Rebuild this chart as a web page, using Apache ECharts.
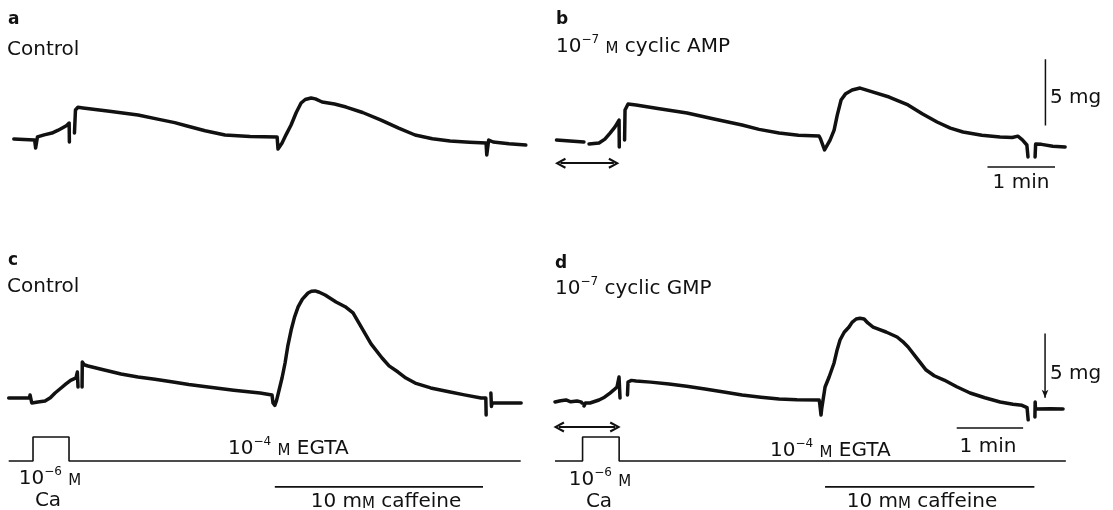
<!DOCTYPE html>
<html>
<head>
<meta charset="utf-8">
<script src="https://cdn.jsdelivr.net/npm/echarts@6.0.0/dist/echarts.min.js"></script>
<style>
  html, body { margin: 0; padding: 0; background: #fff; }
  #chart { width: 1113px; height: 510px; }
</style>
</head>
<body>
<div id="chart"></div>
<script>
// Tension traces: [time (s), tension (mg)], '-' breaks the pen trace
var traceA = [[0,0.46],[18.5,0.38],[19.4,-0.23],[20.3,-0.23],[21.0,0.62],[27,0.78],[33.9,0.92],[39,1.12],[43.1,1.31],[47,1.5],[49.2,1.69],[49.4,0.23],[51.5,'-'],[53.9,0.92],[54.8,2.69],[57,2.9],[61.5,2.85],[85,2.6],[110.4,2.31],[130,1.95],[143,1.72],[154,1.46],[170,1.1],[187.7,0.77],[210,0.65],[234,0.62],[234.8,-0.31],[236.5,-0.31],[238.4,0.15],[242,0.8],[246.4,1.54],[251,2.5],[255.3,3.23],[259,3.5],[264.2,3.62],[268,3.55],[274,3.31],[285,3.15],[295.3,2.92],[310,2.5],[326.4,1.92],[342,1.3],[356.6,0.77],[372,0.48],[387.7,0.31],[405,0.22],[419.7,0.15],[420.3,-0.77],[421.2,-0.77],[422,0.38],[426,0.23],[440,0.1],[455,0]];
var traceB = [[0,0.38],[12,0.3],[24.4,0.23],[25,'-'],[28.9,0.08],[37.8,0.15],[43,0.45],[47.6,0.92],[52,1.4],[55.6,1.92],[55.8,-0.15],[58,'-'],[60.5,0.38],[60.9,2.69],[63.6,3.15],[70.7,3.08],[90,2.8],[116,2.46],[140,2.0],[164.9,1.54],[180,1.2],[197.8,0.92],[215,0.75],[233.3,0.69],[234.5,0.5],[238.2,-0.38],[239,-0.38],[243.1,0.38],[246.7,1.15],[249.5,2.3],[252.9,3.46],[257,3.95],[262.7,4.23],[269.8,4.38],[280,4.1],[295.6,3.69],[312.4,3.08],[325,2.4],[338.2,1.77],[350,1.3],[361.3,1.0],[378,0.75],[394.2,0.62],[405,0.58],[410,0.68],[414,0.4],[418,0.0],[419,-0.92],[420,'-'],[425.3,-0.92],[425.8,0.08],[431,0.05],[441,-0.1],[452,-0.15]];
var traceC = [[0,0.43],[18.4,0.43],[19.0,0.69],[19.6,0.69],[20.5,0.0],[22,-0.1],[26,0.09],[32.3,0.17],[37,0.45],[41.2,0.86],[46,1.25],[50.9,1.64],[55,1.95],[59.8,2.16],[61.0,2.67],[61.6,1.38],[63,'-'],[65.2,1.38],[65.4,3.53],[67,3.3],[70.5,3.19],[85,2.85],[99.8,2.5],[114.9,2.24],[130,2.05],[146.1,1.81],[160,1.6],[177.2,1.38],[200,1.1],[223.4,0.86],[234,0.69],[234.9,0.0],[236.5,-0.2],[238,0.2],[240.3,1.12],[243,2.2],[245.6,3.45],[248,4.9],[251,6.29],[254,7.4],[257.2,8.28],[261,8.95],[266,9.48],[269,9.64],[272.3,9.66],[276,9.55],[281.2,9.31],[290.9,8.71],[299,8.3],[306,7.76],[310,7.1],[314.9,6.29],[322,5.1],[331.8,3.88],[338,3.2],[346,2.67],[353,2.15],[361.2,1.72],[375,1.3],[392.3,0.95],[405,0.7],[419.8,0.43],[424,0.43],[424.3,-1.03],[425,'-'],[428.5,0.86],[429,-0.3],[429.5,0.0],[440,0.0],[455.4,0.0]];
var traceD = [[0,0.09],[5,0.2],[9.8,0.26],[14,0.1],[19.6,0.17],[23,0.1],[24,0.0],[24.5,'-'],[25.8,-0.26],[27,0.0],[31.1,0.0],[39.1,0.26],[44,0.5],[48.9,0.86],[52,1.1],[55.1,1.38],[56.9,2.24],[57.8,0.43],[60,'-'],[64.4,0.69],[64.9,1.81],[68,1.95],[72,1.9],[85,1.8],[101.3,1.64],[117,1.45],[133.3,1.21],[150,0.95],[166.2,0.69],[183,0.5],[199.1,0.34],[215,0.28],[234.7,0.26],[235.2,0.0],[236.4,-1.03],[237,-0.5],[240,1.38],[243.6,2.24],[248,3.45],[250.5,4.5],[253.3,5.43],[257,6.1],[261.3,6.55],[264,6.95],[267.6,7.24],[271,7.3],[274.7,7.24],[278,6.9],[282.7,6.55],[288,6.35],[294.2,6.12],[304,5.69],[309,5.3],[313.8,4.83],[322,3.8],[329.8,2.84],[337,2.35],[345.8,1.98],[357,1.4],[368.9,0.86],[382,0.45],[395.6,0.09],[407,-0.1],[415,-0.2],[419.5,-0.4],[420.5,-1.45],[421.5,'-'],[426.5,-1.21],[426.7,0.09],[427,-0.52],[440,-0.5],[451.5,-0.52]];

// Solution protocol: [time (s), level] 0 = EGTA, 1 = 10^-6 M Ca
var caStepC = [[0,0],[21.6,0],[21.6,1],[53.6,1],[53.6,0],[455,0]];
var caStepD = [[0,0],[24.5,0],[24.5,1],[57,1],[57,0],[454,0]];
// caffeine application: start / end time (s), drawn at level -1.08
var caffeineC = [[236.5,-1.08],[421.5,-1.08]];
var caffeineD = [[240,-1.08],[426,-1.08]];

// Calibration bars: 5 mg and 1 min, and the solution-change arrows
var mgBarB = [[434.5,1.5],[434.5,6.6]];
var minBarB = [[383,-1.7],[443,-1.7]];
var arrowB = [[3.5,-1.4],[51,-1.4]];
var mgBarD = [[435.5,6.0],[435.5,0.45]];
var minBarD = [[357,-2.15],[416,-2.15]];
var arrowD = [[3.5,-2.07],[53.5,-2.07]];

var chart = echarts.init(document.getElementById('chart'));

var INK = '#111';
var FONT = 'DejaVu Sans';
var RICH = {
    n: { fontSize: 20, fontFamily: FONT, fill: INK, verticalAlign: 'bottom', lineHeight: 23 },
    sup: { fontSize: 12, fontFamily: FONT, fill: INK, verticalAlign: 'top', lineHeight: 13 },
    sc: { fontSize: 15, fontFamily: FONT, fill: INK, verticalAlign: 'bottom', lineHeight: 19 },
    b: { fontSize: 17, fontFamily: FONT, fontWeight: 'bold', fill: INK, verticalAlign: 'bottom', lineHeight: 23 }
};

function label(x, y, text, align) {
    return {
        type: 'text', x: x, y: y, silent: true,
        style: { text: text, rich: RICH, align: align || 'left', verticalAlign: 'middle' }
    };
}

function trace(data, i) {
    return {
        type: 'line', xAxisIndex: i, yAxisIndex: i, data: data,
        symbol: 'none', connectNulls: false,
        lineStyle: { color: INK, width: 3.5, join: 'round', cap: 'round' },
        z: 3
    };
}

function thin(data, i, w) {
    return {
        type: 'line', xAxisIndex: i, yAxisIndex: i, data: data,
        symbol: 'none',
        itemStyle: { color: INK },
        lineStyle: { color: INK, width: w || 1.5 },
        z: 2
    };
}

// vertical calibration bar ending in a small downward arrowhead
function pointer(data, i) {
    var s = thin(data, i);
    s.data = [data[0], { value: data[1], symbol: 'arrow', symbolSize: [5, 8], symbolRotate: 180 }];
    return s;
}

var CHEVRON = 'path://M0,10L5,0L10,10L8.2,11L5,4.2L1.8,11Z';
function arrow(pts, i) {
    return {
        type: 'line', xAxisIndex: i, yAxisIndex: i, data: [],
        symbol: 'none',
        markLine: {
            silent: true,
            symbol: [CHEVRON, CHEVRON],
            symbolSize: 11,
            label: { show: false },
            lineStyle: { color: INK, width: 1.8, type: 'solid' },
            data: [[{ coord: pts[0] }, { coord: pts[1] }]]
        }
    };
}

var xAxes = [], yAxes = [];
var yRanges = [[-2, 7], [-2, 7], [-3, 11], [-3, 11], [-1.5, 1.5], [-1.5, 1.5]];
for (var i = 0; i < 6; i++) {
    xAxes.push({ type: 'value', gridIndex: i, min: 0, max: 455, show: false });
    yAxes.push({ type: 'value', gridIndex: i, min: yRanges[i][0], max: yRanges[i][1], show: false });
}

var option = {
    backgroundColor: '#fff',
    animation: false,
    grid: [
        { left: 13.8, top: 54, width: 512, height: 117 },
        { left: 556.5, top: 54, width: 512, height: 117 },
        { left: 8.7, top: 275.4, width: 512, height: 162.4 },
        { left: 555, top: 275.4, width: 512, height: 162.4 },
        { left: 8.7, top: 425, width: 512, height: 72 },
        { left: 555, top: 425, width: 512, height: 72 }
    ],
    xAxis: xAxes,
    yAxis: yAxes,
    series: [
        trace(traceA, 0),
        trace(traceB, 1),
        trace(traceC, 2),
        trace(traceD, 3),
        thin(mgBarB, 1), thin(minBarB, 1), arrow(arrowB, 1),
        pointer(mgBarD, 3), thin(minBarD, 3), arrow(arrowD, 3),
        thin(caStepC, 4, 1.6), thin(caStepD, 5, 1.6),
        thin(caffeineC, 4, 1.6), thin(caffeineD, 5, 1.6)
    ],
    graphic: [
        label(8, 17, '{b|a}'),
        label(7, 48, '{n|Control}'),
        label(556, 17, '{b|b}'),
        label(556, 45, '{n|10}{sup|−7}{n| }{sc|M}{n| cyclic AMP}'),
        label(1050, 96, '{n|5 mg}'),
        label(1021, 181, '{n|1 min}', 'center'),
        label(8, 258, '{b|c}'),
        label(7, 285, '{n|Control}'),
        label(555, 261, '{b|d}'),
        label(555, 287, '{n|10}{sup|−7}{n| cyclic GMP}'),
        label(1050, 372, '{n|5 mg}'),
        label(988, 445, '{n|1 min}', 'center'),
        label(228, 447, '{n|10}{sup|−4}{n| }{sc|M}{n| EGTA}'),
        label(770, 449, '{n|10}{sup|−4}{n| }{sc|M}{n| EGTA}'),
        label(50, 477, '{n|10}{sup|−6}{n| }{sc|M}', 'center'),
        label(48, 499, '{n|Ca}', 'center'),
        label(600, 478, '{n|10}{sup|−6}{n| }{sc|M}', 'center'),
        label(599, 500, '{n|Ca}', 'center'),
        label(386, 500, '{n|10 m}{sc|M}{n| caffeine}', 'center'),
        label(922, 500, '{n|10 m}{sc|M}{n| caffeine}', 'center')
    ]
};

chart.setOption(option);

window.addEventListener('resize', function() {
    chart.resize();
});
</script>
</body>
</html>
